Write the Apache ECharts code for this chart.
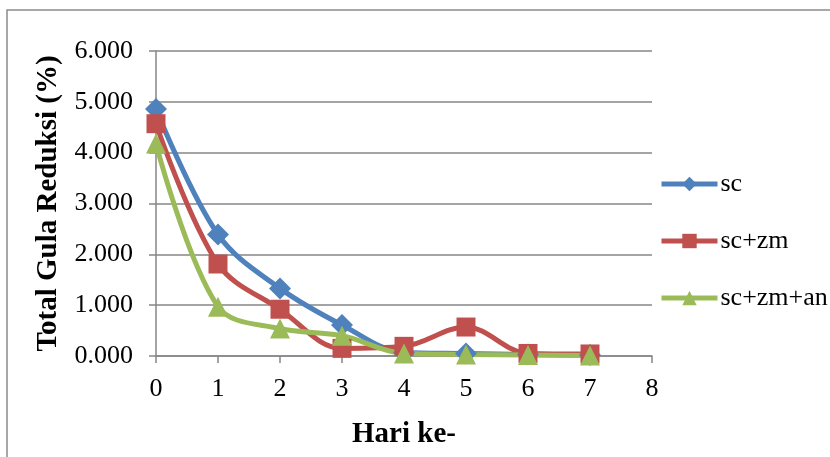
<!DOCTYPE html>
<html><head><meta charset="utf-8">
<script src="https://cdn.jsdelivr.net/npm/echarts@6/dist/echarts.min.js"></script>
<style>html,body{margin:0;padding:0;background:#fff}#c{width:830px;height:457px}</style>
</head><body><div id="c"></div>
<script>
var days = [0,1,2,3,4,5,6,7];
var seriesNames = ['sc','sc+zm','sc+zm+an'];
var sc = [4.86, 2.39, 1.33, 0.61, 0.07, 0.05, 0.03, 0.02];
var scZm = [4.57, 1.81, 0.92, 0.15, 0.19, 0.57, 0.05, 0.04];
var scZmAn = [4.18, 0.97, 0.54, 0.40, 0.05, 0.03, 0.02, 0.01];
var yTicks = [0,1,2,3,4,5,6];

var chart = echarts.init(document.getElementById('c'));
function pairs(a){return days.map(function(d,i){return [d,a[i]];});}
var font = '"Liberation Serif","Times New Roman",serif';
function lg(name, top){
  return {orient:'vertical',left:654,top:top,itemWidth:56,itemHeight:18,
    textStyle:{fontFamily:font,fontSize:26,color:'#000',padding:[0,0,0,-2]},
    lineStyle:{width:5},data:[name]};
}
chart.setOption({
  animation:false,
  graphic:[{type:'rect',shape:{x:7,y:10,width:830,height:460},style:{fill:'none',stroke:'#8c8c8c',lineWidth:1.5}}],
  grid:{left:156,right:178,top:51,bottom:101},
  legend:[lg(seriesNames[0],166),lg(seriesNames[1],223),lg(seriesNames[2],280)],
  xAxis:{type:'value',min:0,max:8,interval:1,
    name:'Hari ke-',nameLocation:'middle',nameGap:64,
    nameTextStyle:{fontFamily:font,fontSize:29,fontWeight:'bold',color:'#000'},
    axisLine:{lineStyle:{color:'#868686',width:1.5}},
    axisTick:{show:true,length:7,lineStyle:{color:'#868686',width:1.5}},
    axisLabel:{fontFamily:font,fontSize:26,color:'#000',margin:20},
    splitLine:{show:false}},
  yAxis:{type:'value',min:0,max:6,interval:1,
    name:'Total Gula Reduksi (%)',nameLocation:'middle',nameGap:93,
    nameTextStyle:{fontFamily:font,fontSize:29,fontWeight:'bold',color:'#000'},
    axisLine:{show:true,lineStyle:{color:'#868686',width:1.5}},
    axisTick:{show:true,length:7,lineStyle:{color:'#868686',width:1.5}},
    axisLabel:{fontFamily:font,fontSize:26,color:'#000',margin:23,formatter:function(v){return v.toFixed(3);}},
    splitLine:{lineStyle:{color:'#868686',width:1.5}}},
  series:[
    {name:seriesNames[0],type:'line',data:pairs(sc),smooth:0.35,symbol:'diamond',symbolSize:22,
      lineStyle:{width:5,color:'#4F81BD'},itemStyle:{color:'#4F81BD'}},
    {name:seriesNames[1],type:'line',data:pairs(scZm),smooth:0.35,symbol:'rect',symbolSize:19,
      lineStyle:{width:5,color:'#C0504D'},itemStyle:{color:'#C0504D'}},
    {name:seriesNames[2],type:'line',data:pairs(scZmAn),smooth:0.35,symbol:'triangle',symbolSize:20,
      lineStyle:{width:5,color:'#9BBB59'},itemStyle:{color:'#9BBB59'}}
  ]
});
</script></body></html>
